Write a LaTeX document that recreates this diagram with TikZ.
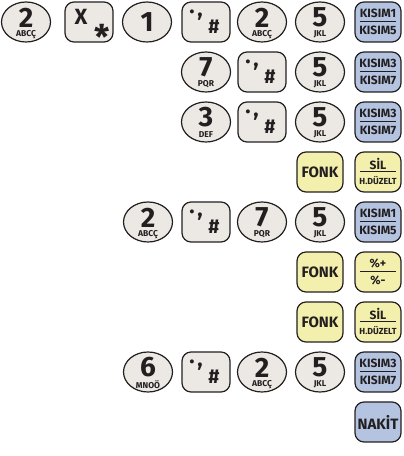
\documentclass[tikz,border=0pt]{standalone}
\usepackage{fontspec}
\setmainfont{Fira Sans}
\usetikzlibrary{shapes.geometric}
\definecolor{keygray}{RGB}{236,232,228}
\definecolor{keyblue}{RGB}{180,196,224}
\definecolor{keyyel}{RGB}{243,239,172}
\definecolor{ink}{RGB}{35,31,32}
\tikzset{
  key/.style={draw=ink, line width=1.2pt, inner sep=0pt},
  numkey/.style={key, ellipse, fill=keygray, minimum width=49pt, minimum height=40pt},
  sqkey/.style={key, rectangle, rounded corners=9pt, fill=keygray, minimum width=48pt, minimum height=40pt},
  bluekey/.style={key, rectangle, rounded corners=9pt, fill=keyblue, minimum width=46pt, minimum height=40pt},
  yelkey/.style={key, rectangle, rounded corners=9pt, fill=keyyel, minimum width=46pt, minimum height=40pt},
  txt/.style={text=ink, inner sep=0pt},
  digit/.style={txt, font=\fontsize{28}{28}\selectfont\bfseries},
  letters/.style={txt, font=\fontsize{8.5}{9}\selectfont\bfseries},
  fractxt/.style={txt, font=\fontsize{12}{12}\selectfont\bfseries},
  smalltxt/.style={txt, font=\fontsize{8.8}{9}\selectfont\bfseries},
  bigtxt/.style={txt, font=\fontsize{15}{15}\selectfont\bfseries},
  punct/.style={txt, font=\fontsize{22}{22}\selectfont\bfseries},
  hash/.style={txt, font=\fontsize{20}{20}\selectfont\bfseries},
  fracline/.style={draw=ink, line width=1.3pt},
}
\newcommand\NumKey[5]{%
  \node[numkey] (#1) at (#2,#3) {};
  \node[digit] (#1-d) at ([yshift=4.5pt]#1.center) {#4};
  \node[letters] (#1-l) at ([yshift=-12.5pt]#1.center) {#5};
}
\newcommand\PunctKey[3]{%
  \node[sqkey] (#1) at (#2,#3) {};
  \node[punct] (#1-dot) at ([xshift=-14pt,yshift=10pt]#1.center) {.};
  \node[punct] (#1-com) at ([xshift=-6pt,yshift=5pt]#1.center) {,};
  \node[hash] (#1-h) at ([xshift=8pt,yshift=-5pt]#1.center) {\#};
}
\newcommand\FracKey[5]{%
  \node[#1] (#2) at (#3) {};
  \node[fractxt] (#2-t) at ([yshift=8.5pt]#2.center) {#4};
  \draw[fracline] ([xshift=-18pt,yshift=0.5pt]#2.center) -- ([xshift=18pt,yshift=0.5pt]#2.center);
  \node[fractxt] (#2-b) at ([yshift=-8.5pt]#2.center) {#5};
}
\newcommand\SilKey[2]{%
  \node[yelkey] (#1) at (#2) {};
  \node[fractxt] (#1-t) at ([yshift=8.5pt]#1.center) {SİL};
  \draw[fracline] ([xshift=-18pt,yshift=0.5pt]#1.center) -- ([xshift=18pt,yshift=0.5pt]#1.center);
  \node[smalltxt] (#1-b) at ([yshift=-8.5pt]#1.center) {H.DÜZELT};
}
\begin{document}
\begin{tikzpicture}[x=1pt,y=1pt]
\useasboundingbox (0,0) rectangle (404,456);
% row 1
\NumKey{r1a}{26}{434}{2}{ABCÇ}
\node[sqkey] (r1x) at (89,434) {};
\node[txt, font=\fontsize{22}{22}\selectfont\bfseries] (r1x-x) at ([xshift=-8pt,yshift=5pt]r1x.center) {X};
\node[txt, font=\fontsize{34}{34}\selectfont\bfseries] (r1x-s) at ([xshift=13pt,yshift=-15pt]r1x.center) {*};
\node[numkey] (r1c) at (147,434) {};
\node[digit] (r1c-d) at (r1c.center) {1};
\PunctKey{r1p}{206}{434}
\NumKey{r1e}{262}{434}{2}{ABCÇ}
\NumKey{r1f}{320}{434}{5}{JKL}
\FracKey{bluekey}{r1k}{378,434}{KISIM1}{KISIM5}
% row 2
\NumKey{r2a}{206}{384}{7}{PQR}
\PunctKey{r2p}{262}{384}
\NumKey{r2f}{320}{384}{5}{JKL}
\FracKey{bluekey}{r2k}{378,384}{KISIM3}{KISIM7}
% row 3
\NumKey{r3a}{206}{334}{3}{DEF}
\PunctKey{r3p}{262}{334}
\NumKey{r3f}{320}{334}{5}{JKL}
\FracKey{bluekey}{r3k}{378,334}{KISIM3}{KISIM7}
% row 4
\node[yelkey] (r4f) at (320,284) {};
\node[bigtxt] (r4f-t) at (r4f.center) {FONK};
\SilKey{r4k}{378,284}
% row 5
\NumKey{r5a}{148}{234}{2}{ABCÇ}
\PunctKey{r5p}{206}{234}
\NumKey{r5c}{262}{234}{7}{PQR}
\NumKey{r5f}{320}{234}{5}{JKL}
\FracKey{bluekey}{r5k}{378,234}{KISIM1}{KISIM5}
% row 6
\node[yelkey] (r6f) at (320,184) {};
\node[bigtxt] (r6f-t) at (r6f.center) {FONK};
\FracKey{yelkey}{r6k}{378,184}{\%+}{\%-}
% row 7
\node[yelkey] (r7f) at (320,134) {};
\node[bigtxt] (r7f-t) at (r7f.center) {FONK};
\SilKey{r7k}{378,134}
% row 8
\NumKey{r8a}{148}{84}{6}{MNOÖ}
\PunctKey{r8p}{206}{84}
\NumKey{r8c}{262}{84}{2}{ABCÇ}
\NumKey{r8f}{320}{84}{5}{JKL}
\FracKey{bluekey}{r8k}{378,84}{KISIM3}{KISIM7}
% row 9
\node[bluekey] (r9k) at (378,34) {};
\node[bigtxt] (r9k-t) at (r9k.center) {NAKİT};
\end{tikzpicture}
\end{document}
